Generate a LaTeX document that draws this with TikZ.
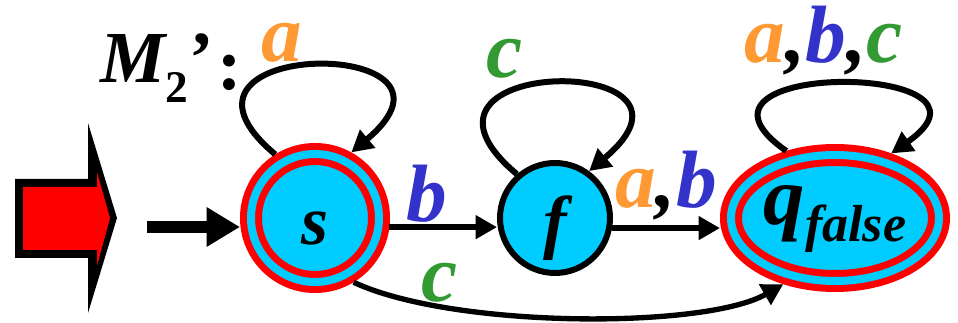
\documentclass[tikz,border=0pt]{standalone}
\usepackage{fontspec}
\setmainfont{Liberation Serif}
\newfontfamily\bifont{Liberation Serif Bold Italic}
\newfontfamily\bdfont{Liberation Serif Bold}
\usetikzlibrary{arrows.meta,shapes.geometric}
\definecolor{stcyan}{RGB}{0,204,255}
\definecolor{lorange}{RGB}{255,153,51}
\definecolor{lblue}{RGB}{51,51,204}
\definecolor{lgreen}{RGB}{51,153,51}
\newcommand{\fsz}[1]{\fontsize{#1}{#1}\selectfont}
\begin{document}
\begin{tikzpicture}[x=0.75pt,y=-0.75pt,
  trans/.style={line width=4pt, -{Triangle[length=16pt,width=17pt]}},
  loope/.style={line width=4.5pt, -{Triangle[length=16pt,width=17pt]}},
  lbl/.style={font=\bifont\fsz{61pt}, inner sep=0pt, anchor=base},
  acc/.style={fill=stcyan, draw=red, line width=5.25pt, double=stcyan, double distance=6pt, inner sep=0pt, outer sep=8.25pt, text depth=0pt},
  plain/.style={circle, fill=stcyan, draw=black, line width=4.5pt, inner sep=0pt, text depth=0pt}]
\useasboundingbox (0,0) rectangle (958,323);
% big red start arrow
\fill[black] (15,179) -- (88,179) -- (88,123) -- (117,218) -- (88,313) -- (88,258) -- (15,258) -- cycle;
\fill[red] (23,187) -- (97,187) -- (97,172) -- (110,218) -- (97,266) -- (97,250) -- (23,250) -- cycle;
% states
\node[acc, circle, minimum size=96pt, text height=40.5pt, font=\bifont\fsz{52pt}] (s) at (315,218) {s};
\node[plain, minimum size=82.5pt, text height=42pt, font=\bifont\fsz{53pt}] (f) at (555,218) {f};
\node[acc, ellipse, minimum width=156pt, minimum height=94.5pt, text height=10.5pt, font=\bifont] (q) at (835,218) {\makebox[0pt]{\fsz{62pt}q\raisebox{-12.75pt}{\fsz{39pt}false}}};
% transitions
\coordinate (init) at (147,227);
\draw[line width=9pt, -{Triangle[length=25pt,width=28pt]}] (init) -- (init -| s.west);
\draw[trans] (s.-7) -- (s.-7 -| f.west);
\draw[trans] (f.-10) -- (f.-10 -| q.west);
\draw[loope] (s.122) .. controls +(140:137pt) and +(40:137pt) .. (s.61);
\draw[loope] (f.131) .. controls +(140:139.5pt) and +(40:139.5pt) .. (f.54);
\draw[loope] (q.126) .. controls +(145:120pt) and +(35:120pt) .. (q.49);
\draw[trans] (s.-59) .. controls +(-25:82.5pt) and +(210:67.5pt) .. (q.232);
% labels
\node[lbl, text=lorange] (la) at (282,62) {a};
\node[lbl, text=lgreen] (lc) at (505,78) {c};
\node[lbl] (labc) at (824,63) {\textcolor{lorange}{a},\textcolor{lblue}{b},\textcolor{lgreen}{c}};
\node[lbl, text=lblue] (lb) at (427,222) {b};
\node[lbl] (lab) at (666,208) {\textcolor{lorange}{a},\textcolor{lblue}{b}};
\node[lbl, text=lgreen] (lc2) at (440,302) {c};
\node[inner sep=0pt, anchor=base west] (title) at (100,83) {\bifont\fsz{55pt}M\raisebox{-15pt}{\bdfont\fsz{34pt}2}\bdfont\kern1pt’\kern3pt\raisebox{-5pt}{:}};
\end{tikzpicture}
\end{document}
